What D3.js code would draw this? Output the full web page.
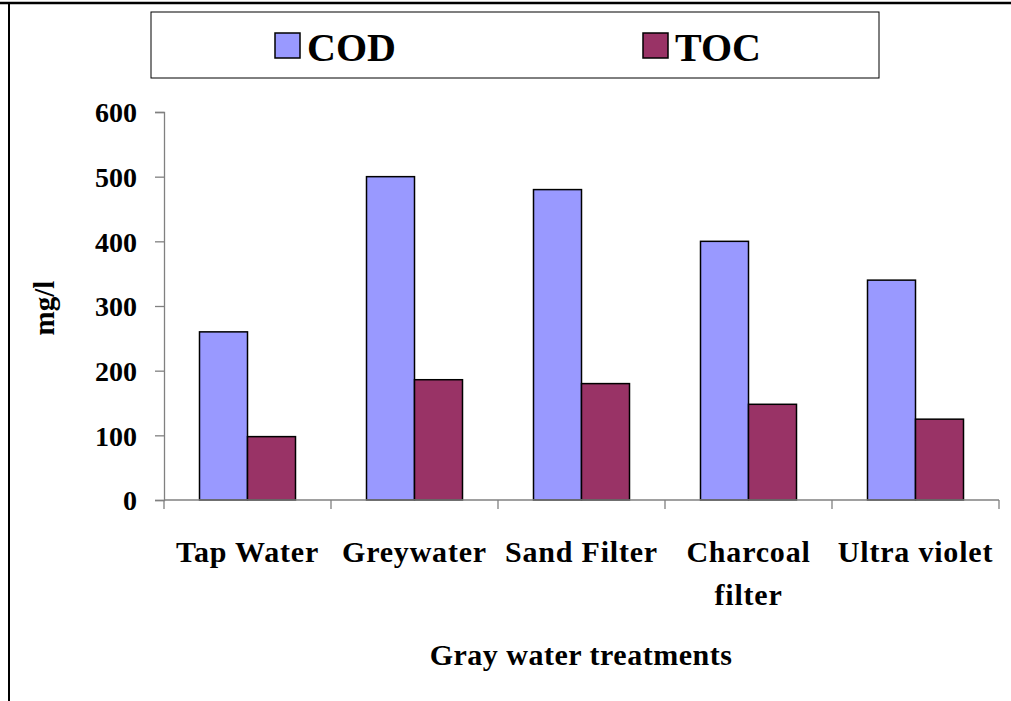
<!DOCTYPE html>
<html lang="en">
<head>
  <meta charset="UTF-8">
  <title>COD and TOC</title>
  <style>
    body, html { margin: 0; padding: 0; background: #fff; }
    svg { display: block; }
    text { font-family: "Liberation Serif", "Times New Roman", serif; font-weight: bold; fill: #000; }
  </style>
</head>
<body>
  <svg id="svg" width="1011" height="701"></svg>
  <script src="https://d3js.org/d3.v7.min.js"></script>
  <script>
    const categories = ['Tap Water', 'Greywater', 'Sand Filter', 'Charcoal filter', 'Ultra violet']
    const labelLines = [['Tap Water'], ['Greywater'], ['Sand Filter'], ['Charcoal', 'filter'], ['Ultra violet']]
    const seriesNames = ['COD', 'TOC']
    const cod = [260, 500, 480, 400, 340]
    const toc = [98, 186, 180, 148, 125]
    const yTicks = [0, 100, 200, 300, 400, 500, 600]
    const colors = ['#9999FF', '#993366']

    const svg = d3.select('#svg')
    const plotLeft = 164, plotRight = 999, plotTop = 112, plotBottom = 500

    // frame
    svg.append('line').attr('x1', 0).attr('x2', 1011).attr('y1', 3).attr('y2', 3)
      .attr('stroke', '#000').attr('stroke-width', 2.5)
    svg.append('line').attr('x1', 9).attr('x2', 9).attr('y1', 3).attr('y2', 701)
      .attr('stroke', '#000').attr('stroke-width', 2)

    const x = d3.scaleBand().domain(categories).range([plotLeft, plotRight])
    const y = d3.scaleLinear().domain([0, 600]).range([plotBottom, plotTop])
    const barW = 48

    const series = [cod, toc]
    series.forEach((vals, si) => {
      svg.append('g').selectAll('rect')
        .data(vals)
        .join('rect')
        .attr('x', (d, i) => x(categories[i]) + x.bandwidth() / 2 - barW + si * barW)
        .attr('y', d => y(d))
        .attr('width', barW)
        .attr('height', d => y(0) - y(d))
        .attr('fill', colors[si])
        .attr('stroke', '#000')
        .attr('stroke-width', 1.5)
    })

    // y axis
    const yAxis = svg.append('g')
      .attr('transform', `translate(${plotLeft},0)`)
      .call(d3.axisLeft(y).tickValues(yTicks).tickSize(9).tickPadding(18))
    yAxis.selectAll('path, line').attr('stroke', '#808080').attr('stroke-width', 1.3)
    yAxis.selectAll('text').attr('font-size', 28).attr('font-family', '"Liberation Serif", serif')
      .attr('font-weight', 'bold').attr('dy', '0.35em')

    // x axis
    const xAxis = svg.append('g')
      .attr('transform', `translate(0,${plotBottom})`)
    xAxis.append('line').attr('x1', plotLeft).attr('x2', plotRight).attr('y1', 0).attr('y2', 0)
      .attr('stroke', '#808080').attr('stroke-width', 1.3)
    xAxis.selectAll('line.tick')
      .data(categories.concat(['end']))
      .join('line')
      .attr('class', 'tick')
      .attr('x1', (d, i) => i < categories.length ? x(d) : plotRight)
      .attr('x2', (d, i) => i < categories.length ? x(d) : plotRight)
      .attr('y1', 0).attr('y2', 9)
      .attr('stroke', '#808080').attr('stroke-width', 1.3)

    const labels = svg.append('g').selectAll('text')
      .data(labelLines)
      .join('text')
      .attr('text-anchor', 'middle')
      .attr('font-size', 30)
      .attr('letter-spacing', 0.8)
      .attr('x', (d, i) => x(categories[i]) + x.bandwidth() / 2)
      .attr('y', 562)
    labels.selectAll('tspan')
      .data(d => d)
      .join('tspan')
      .attr('x', function () { return this.parentNode.getAttribute('x') })
      .attr('dy', (d, i) => i === 0 ? 0 : 43)
      .text(d => d)

    // axis titles
    svg.append('text').attr('x', 581).attr('y', 665).attr('text-anchor', 'middle')
      .attr('font-size', 30).attr('letter-spacing', 0.5).text('Gray water treatments')
    svg.append('text').attr('transform', 'translate(54,308) rotate(-90)').attr('text-anchor', 'middle')
      .attr('font-size', 29).text('mg/l')

    // legend
    svg.append('rect').attr('x', 151).attr('y', 12).attr('width', 728).attr('height', 66)
      .attr('fill', 'none').attr('stroke', '#000').attr('stroke-width', 1)
    const legendX = [275, 643]
    const leg = svg.append('g').selectAll('g')
      .data(seriesNames)
      .join('g')
      .attr('transform', (d, i) => `translate(${legendX[i]},33)`)
    leg.append('rect').attr('width', 25).attr('height', 25)
      .attr('fill', (d, i) => colors[i]).attr('stroke', '#000').attr('stroke-width', 1.5)
    leg.append('text').attr('x', 32).attr('y', 28).attr('font-size', 40).text(d => d)
  </script>
</body>
</html>
